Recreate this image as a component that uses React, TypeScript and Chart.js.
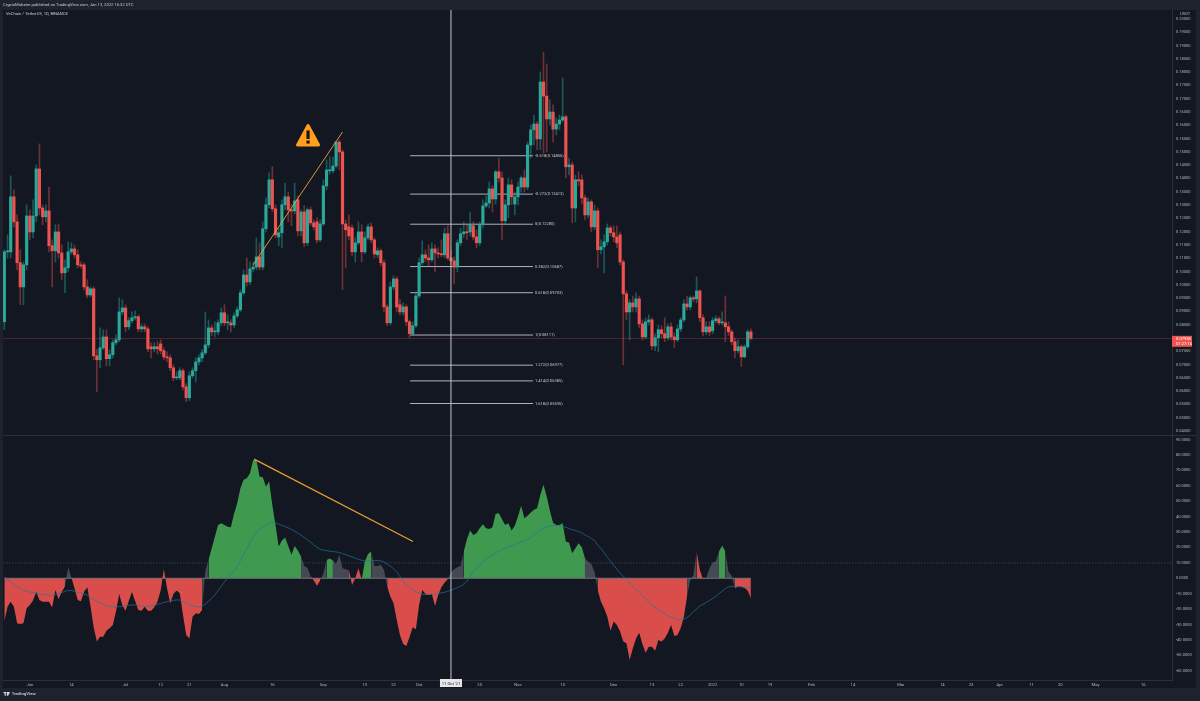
import React, { useEffect, useRef } from "react";
import { Chart, registerables } from "chart.js";

Chart.register(...registerables);

const opens = [
.0861,.1124,.1124,.1331,.1237,.1083,.0992,.1075,.1259,.1199,
.1259,.1436,.1289,.1256,.1278,.1147,.1128,.1199,.1120,.1045,
.1064,.1124,.1135,.1113,.1075,.1075,.0992,.0962,.0985,.0733,
.0718,.0763,.0804,.0722,.0737,.0782,.0793,.0898,.0913,.0842,
.0865,.0876,.0880,.0834,.0842,.0834,.0767,.0759,.0767,.0778,
.0752,.0729,.0725,.0688,.0650,.0650,.0677,.0616,.0575,.0658,
.0677,.0710,.0725,.0744,.0774,.0838,.0823,.0823,.0857,.0895,
.0857,.0857,.0849,.0883,.0906,.0970,.1037,.1011,.1060,.1067,
.1105,.1067,.1211,.1301,.1395,.1286,.1180,.1196,.1301,.1331,
.1282,.1278,.1320,.1203,.1274,.1158,.1282,.1233,.1237,.1169,
.1229,.1372,.1429,.1429,.1447,.1537,.1500,.1229,.1218,.1214,
.1124,.1158,.1199,.1124,.1177,.1218,.1169,.1113,.1128,.1083,
.0917,.0857,.0992,.1022,.0925,.0898,.0917,.0861,.0816,.0846,
.0958,.1083,.1113,.1101,.1094,.1135,.1120,.1116,.1113,.1192,
.1101,.1090,.1067,.1158,.1192,.1199,.1199,.1222,.1180,.1158,
.1229,.1297,.1308,.1361,.1323,.1425,.1402,.1241,.1301,.1376,
.1304,.1331,.1368,.1402,.1368,.1526,.1583,.1605,.1549,.1763,
.1710,.1624,.1650,.1586,.1605,.1620,.1632,.1444,.1451,.1289,
.1395,.1395,.1327,.1263,.1312,.1218,.1278,.1132,.1143,.1162,
.1214,.1196,.1180,.1188,.1086,.0966,.0898,.0932,.0917,.0947,
.0853,.0804,.0861,.0868,.0770,.0801,.0831,.0816,.0801,.0842,
.0804,.0793,.0834,.0868,.0928,.0917,.0951,.0947,.0977,.0876,
.0823,.0842,.0827,.0865,.0872,.0857,.0857,.0842,.0823,.0786,
.0752,.0767,.0729,.0767,.0823];

const closes = [
.1124,.1124,.1331,.1237,.1083,.0992,.1075,.1259,.1199,.1259,
.1436,.1289,.1256,.1278,.1147,.1128,.1199,.1120,.1045,.1064,
.1124,.1135,.1113,.1075,.1071,.0992,.0962,.0985,.0733,.0718,
.0763,.0804,.0722,.0737,.0782,.0793,.0898,.0913,.0842,.0865,
.0876,.0880,.0834,.0842,.0834,.0759,.0759,.0767,.0759,.0752,
.0729,.0725,.0688,.0650,.0650,.0677,.0616,.0575,.0658,.0677,
.0710,.0725,.0744,.0774,.0838,.0823,.0823,.0857,.0895,.0857,
.0857,.0849,.0883,.0906,.0970,.1037,.1011,.1060,.1067,.1105,
.1067,.1211,.1301,.1395,.1286,.1188,.1196,.1301,.1331,.1282,
.1278,.1316,.1203,.1274,.1158,.1282,.1233,.1218,.1169,.1229,
.1372,.1432,.1432,.1447,.1537,.1500,.1229,.1207,.1184,.1124,
.1158,.1199,.1124,.1177,.1218,.1169,.1116,.1128,.1083,.0917,
.0857,.0992,.1022,.0917,.0898,.0917,.0861,.0816,.0846,.0958,
.1083,.1113,.1101,.1094,.1135,.1120,.1116,.1113,.1192,.1101,
.1090,.1067,.1158,.1192,.1199,.1196,.1226,.1180,.1158,.1226,
.1297,.1308,.1361,.1323,.1425,.1402,.1241,.1301,.1376,.1331,
.1331,.1368,.1402,.1368,.1526,.1583,.1605,.1549,.1763,.1710,
.1624,.1650,.1586,.1605,.1620,.1632,.1444,.1451,.1289,.1395,
.1391,.1327,.1263,.1312,.1218,.1278,.1132,.1143,.1162,.1214,
.1196,.1180,.1158,.1086,.0966,.0898,.0932,.0917,.0947,.0853,
.0804,.0861,.0868,.0770,.0801,.0831,.0816,.0801,.0842,.0804,
.0793,.0834,.0868,.0928,.0917,.0951,.0947,.0977,.0876,.0823,
.0842,.0823,.0865,.0872,.0857,.0857,.0842,.0823,.0786,.0752,
.0767,.0729,.0767,.0823,.07986];

const highs = [
.1132,.1188,.1410,.1357,.1263,.1132,.1086,.1301,.1282,.1320,
.1451,.1530,.1301,.1301,.1368,.1169,.1226,.1229,.1150,.1094,
.1162,.1158,.1150,.1132,.1086,.1083,.1019,.0992,.0992,.0756,
.0838,.0831,.0831,.0756,.0793,.0812,.0951,.0944,.0925,.0876,
.0898,.0902,.0887,.0853,.0853,.0842,.0782,.0782,.0786,.0793,
.0763,.0748,.0737,.0699,.0673,.0688,.0684,.0628,.0673,.0688,
.0725,.0737,.0756,.0898,.0868,.0849,.0861,.0868,.0913,.0925,
.0887,.0868,.0895,.0917,.0981,.1056,.1101,.1086,.1086,.1177,
.1158,.1237,.1327,.1421,.1444,.1301,.1214,.1320,.1383,.1349,
.1304,.1383,.1334,.1282,.1297,.1289,.1293,.1244,.1252,.1244,
.1395,.1470,.1481,.1481,.1537,.1545,.1508,.1244,.1263,.1226,
.1177,.1237,.1226,.1199,.1229,.1233,.1177,.1139,.1135,.1094,
.0925,.1011,.1034,.1030,.0944,.0932,.0925,.0868,.0861,.0973,
.1101,.1165,.1132,.1150,.1158,.1150,.1139,.1169,.1214,.1222,
.1132,.1105,.1169,.1214,.1237,.1229,.1274,.1237,.1207,.1237,
.1320,.1334,.1387,.1372,.1432,.1477,.1425,.1320,.1402,.1395,
.1349,.1387,.1410,.1432,.1537,.1601,.1639,.1613,.1801,.1876,
.1831,.1696,.1677,.1628,.1639,.1778,.1639,.1477,.1462,.1413,
.1425,.1413,.1338,.1327,.1320,.1301,.1289,.1169,.1188,.1229,
.1222,.1222,.1222,.1199,.1094,.0977,.0944,.0958,.0970,.0958,
.0868,.0876,.0887,.0876,.0816,.0849,.0846,.0876,.0853,.0857,
.0819,.0849,.0876,.0944,.0958,.0958,.0958,.1030,.0981,.0887,
.0861,.0861,.0876,.0883,.0880,.0898,.0958,.0861,.0831,.0801,
.0793,.0774,.0774,.0831,.0834];

const lows = [
.0831,.1101,.1101,.1218,.1056,.0925,.0925,.1056,.1169,.1177,
.1237,.1263,.1226,.1237,.1124,.0992,.1086,.1101,.1019,.0970,
.1049,.1116,.1101,.1064,.1064,.0981,.0951,.0955,.0718,.0598,
.0688,.0756,.0695,.0695,.0725,.0774,.0786,.0887,.0823,.0831,
.0857,.0868,.0823,.0823,.0823,.0748,.0725,.0748,.0740,.0740,
.0718,.0710,.0677,.0639,.0643,.0643,.0605,.0560,.0564,.0650,
.0635,.0699,.0710,.0737,.0763,.0808,.0804,.0812,.0846,.0846,
.0831,.0823,.0838,.0876,.0898,.0962,.0996,.1000,.1049,.1056,
.1056,.1056,.1199,.1289,.1274,.1177,.1147,.1139,.1282,.1237,
.1222,.1267,.1184,.1184,.1143,.1147,.1222,.1207,.1158,.1162,
.1222,.1357,.1417,.1421,.1440,.1432,.0981,.1064,.1169,.1109,
.1086,.1150,.1086,.1116,.1169,.1158,.1101,.1101,.1071,.0898,
.0846,.0849,.0981,.0898,.0887,.0887,.0846,.0801,.0808,.0838,
.0951,.1075,.1086,.1071,.1086,.1049,.1101,.1105,.1101,.1094,
.1075,.1003,.1049,.1147,.1177,.1169,.1184,.1169,.1139,.1147,
.1214,.1289,.1289,.1274,.1304,.1387,.1169,.1229,.1252,.1301,
.1263,.1301,.1349,.1349,.1357,.1477,.1526,.1508,.1508,.1496,
.1500,.1601,.1537,.1564,.1583,.1613,.1402,.1413,.1233,.1237,
.1372,.1304,.1244,.1252,.1199,.1207,.1064,.1116,.1045,.1150,
.1184,.1162,.1139,.1075,.0699,.0868,.0793,.0898,.0898,.0838,
.0793,.0797,.0849,.0756,.0752,.0748,.0801,.0786,.0793,.0793,
.0763,.0786,.0823,.0861,.0906,.0906,.0936,.0932,.0861,.0808,
.0812,.0808,.0816,.0857,.0849,.0849,.0786,.0808,.0774,.0725,
.0744,.0692,.0725,.0759,.0793];

const oscValues = [
-28,-18.4,-15.2,-18.4,-29.2,-29.7,-29.2,-19.5,-17.3,-14.5,
-8.7,-14.1,-15.2,-15.2,-15.2,-19,-7.6,-13.6,-8.7,-5.4,
7.1,0.6,-6.5,-14.1,-14.9,-8.7,-5.8,-18,-31.8,-41.1,
-37.9,-37.9,-34,-32.5,-30.3,-21.6,-10.2,-17.7,-21,-14.7,
-8.9,-14.7,-20.6,-21,-18.4,-21,-21,-18.8,-15.2,-8,
5.8,-6.5,-16.2,-10.2,-8,-9.7,-23.8,-36.8,-39,-24.9,
-22.7,-23.2,-20.6,5,11.9,19.5,27.1,34.6,35.7,34.6,
33.5,33.1,41.8,48.7,58.4,63.9,64.9,68.2,76.8,76.8,
66,65.6,59.5,62.8,47.6,34.6,20.6,24.5,26.4,21,
15.2,21,18,14.1,8,6.9,1.5,-1.5,-4.8,-1.5,
3,11.9,12.8,11.5,9.3,15.2,6.5,5.8,5.4,-4.3,
0,6.5,-1.1,10.8,15.8,17.3,8,8,8.7,5.4,
-5.4,-11.9,-16.2,-27,-36.8,-42.6,-43.9,-38.3,-31.8,-33.1,
-17.3,-7.6,-10.2,-10.8,-10.2,-18,-10.8,-5.8,-2.8,-0.6,
3.7,5.8,7.1,8,17.3,25.3,31,28.1,29.2,32.5,
35.1,32.5,32,33.1,41.8,42.2,38.3,34.6,35.7,31,
34,40,47,39,40.5,42.6,44.4,45.5,54.1,60.6,
53,43.9,36.1,34.6,34.6,35.7,23.8,23.2,16.2,19.5,
22.7,20.1,13,10.8,9.3,4.3,-7.6,-15.2,-19.5,-24.9,
-34,-28.1,-30.3,-34.6,-41.1,-42.2,-53,-45.5,-39,-35.3,
-42.6,-48.3,-44.4,-44.4,-47,-40,-41.1,-39,-35.3,-30.3,
-37.4,-36.8,-32.5,-24.9,-11.9,-1.1,2.2,17.3,5.4,-0.6,
0,6.5,10.2,10.8,17.3,21.2,17.3,4.3,1.5,-6.5,
-5.4,-5.4,-6.3,-8,-13];

const signalValues = [
0.6,-1.1,-2.4,-4.1,-5.6,-6.9,-7.8,-8.4,-8.9,-9.3,
-9.7,-10.2,-10.4,-10.6,-11,-11.3,-10.6,-10,-9.3,-8.4,
-8,-8,-8.4,-9.1,-9.5,-10.2,-11,-12.3,-13.9,-14.9,
-15.8,-16.9,-17.7,-18.2,-18.6,-18.6,-18.4,-18.2,-17.7,-17.5,
-17.3,-17.3,-17.5,-18,-18.2,-18.4,-18,-17.5,-16.9,-16.5,
-15.6,-15.2,-14.7,-14.3,-14.1,-14.1,-15.2,-16.2,-17.1,-18,
-18.4,-18.8,-18,-16.7,-14.9,-13,-10.8,-8,-5.2,-2.4,
0.2,2.4,4.8,7.6,11.3,15.2,19.5,23.4,26.8,29.4,
32,33.3,34.6,35.5,36.6,36.1,35.1,34.2,33.5,32.7,
31.6,30.5,29.4,28.1,26.4,24.9,23.4,21.6,20.1,18.8,
18.2,18,17.5,17.3,17.1,16.7,16,15.4,14.5,13.9,
13,12.3,11.7,11.3,11.3,11.5,11.5,11.5,11.3,10.6,
9.1,7.8,6.3,4.1,1.1,-1.9,-4.1,-5.8,-7.4,-8.7,
-9.7,-10.4,-10.6,-10.6,-10.4,-10.2,-10,-9.5,-9.1,-8.4,
-7.8,-6.9,-6.1,-5.2,-3.7,-1.9,1.1,4.3,6.5,8.7,
10.4,12.3,13.6,15.2,16.5,17.5,18.6,19.5,20.3,21,
21.6,22.7,23.8,24.5,25.3,26.4,27.9,29.7,31.4,32.5,
33.5,34,34.2,34.2,34,33.8,33.1,32.3,31.4,31,
30.3,29.4,28.1,27.1,25.8,24.5,21.4,19.5,16.5,13.6,
11,8.4,5.8,3.2,1.3,-0.9,-3,-5,-7.1,-9.1,
-11.3,-13.2,-15.6,-17.1,-18.8,-20.3,-21.6,-22.9,-24.2,-25.3,
-26.2,-26.6,-27.1,-26.6,-25.5,-23.8,-21.6,-19.9,-18,-16.9,
-15.6,-14.5,-13.2,-11.9,-10,-8.4,-6.7,-5.6,-5.2,-5.4,
-5.4,-5.6,-5.8,-6,-6.2];

// zone of each oscillator point: R red, G green, K grey
const oscZoneRuns: [string, number][] = [
  ["R",20],["K",1],["R",42],["K",1],["G",30],["K",2],["R",4],["K",1],["G",3],["K",1],["G",1],["K",2],
  ["R",5],["G",3],["K",4],["R",20],["K",4],["G",39],["K",3],["R",29],["K",2],["G",1],["R",3],["K",3],
  ["G",3],["K",2],["R",6],
];

const priceTicks = [0.2,0.195,0.19,0.185,0.18,0.175,0.17,0.165,0.16,0.155,0.15,0.145,0.14,0.135,0.13,0.125,0.12,0.115,0.11,0.105,0.1,0.095,0.09,0.085,0.08,0.075,0.07,0.065,0.06,0.055,0.05,0.045];
const oscTicks = [90,80,70,60,50,40,30,20,10,0,-10,-20,-30,-40,-50,-60];

const xTickDays = [8,21,38,49,58,69,84,100,113,122,130,149,161,175,191,203,212,222,231,240,253,266,281,294,303,312,322,331,342,357];
const xTickLabels = ["Jun","14","Jul","12","21","Aug","16","Sep","13","22","Oct","20","Nov","15","Dec","13","22","2022","10","19","Feb","14","Mar","14","23","Apr","11","20","May","16"];

const fibLevels = [0.14856,0.13413,0.1228,0.10687,0.09703,0.08111,0.06977,0.06385,0.05535];
const fibLabels = ["-0.618(0.14856)","-0.272(0.13413)","0(0.12280)","0.382(0.10687)","0.618(0.09703)","1(0.08111)","1.272(0.06977)","1.414(0.06385)","1.618(0.05535)"];
const fibDays = [127.2,165.7];

const priceTrendDays = [78,106];
const priceTrendValues = [0.1075,0.1575];
const oscTrendDays = [78.3,128.1];
const oscTrendValues = [77.3,23.8];

const lastPrice = 0.07986;
const lastPriceLabel = "0.07986";
const countdownLabel = "07:27:16";
const crosshairDay = 140;
const crosshairLabel = "11 Oct '21";
const warningDay = 95.2;
const warningPrice = 0.156;
const oscGuide = 10;

const dayMin = -0.417;
const dayMax = 366;

const UP = "#2aa89a";
const DOWN = "#ef5350";
const UP_WICK = "rgba(38,166,154,0.45)";
const DOWN_WICK = "rgba(239,83,80,0.42)";
const FRAME = "#1e222d";
const PANE = "#131722";
const LINE = "#2a2e39";
const TEXT = "#b2b5be";
const FONT = "Roboto, 'Liberation Sans', sans-serif";

const zones: string[] = oscZoneRuns.flatMap(([z, n]) => Array(n).fill(z));
const zoneSeries = (zone: string) =>
  oscValues.map((v, i) => {
    let on = zones[i] === zone;
    if (zone === "K") on = on || zones[i - 1] === "K" || zones[i + 1] === "K";
    else on = on || (zones[i + 1] === zone && zones[i] !== "K");
    return { x: i, y: on ? v : null };
  });

const frontPlugin = {
  id: "frame",
  beforeDraw(chart: any) {
    const { ctx, width, height } = chart;
    ctx.save();
    ctx.fillStyle = FRAME;
    ctx.fillRect(0, 0, width, height);
    ctx.fillStyle = PANE;
    ctx.fillRect(3, 10, 1193, 678);
    ctx.strokeStyle = LINE;
    ctx.lineWidth = 1;
    ctx.beginPath();
    ctx.moveTo(3, 435.5);
    ctx.lineTo(1196, 435.5);
    ctx.stroke();
    ctx.restore();
  },
  afterDatasetsDraw(chart: any) {
    const { ctx, scales } = chart;
    const { x, yPrice } = scales;
    ctx.save();
    // last price line
    const py = yPrice.getPixelForValue(lastPrice);
    ctx.strokeStyle = "rgba(239,83,80,0.26)";
    ctx.lineWidth = 1;
    ctx.beginPath();
    ctx.moveTo(3, Math.round(py) + 0.5);
    ctx.lineTo(1172, Math.round(py) + 0.5);
    ctx.stroke();
    // crosshair
    const cx = x.getPixelForValue(crosshairDay);
    ctx.strokeStyle = "#c3c6ce";
    ctx.lineWidth = 1;
    ctx.beginPath();
    ctx.moveTo(cx, 10);
    ctx.lineTo(cx, 680);
    ctx.stroke();
    // warning icon
    const wx = x.getPixelForValue(warningDay);
    const wy = yPrice.getPixelForValue(warningPrice);
    ctx.fillStyle = "#ff9f1c";
    ctx.strokeStyle = "#ff9f1c";
    ctx.lineWidth = 3;
    ctx.lineJoin = "round";
    ctx.beginPath();
    ctx.moveTo(wx, wy - 10.5);
    ctx.lineTo(wx + 10.5, wy + 9);
    ctx.lineTo(wx - 10.5, wy + 9);
    ctx.closePath();
    ctx.fill();
    ctx.stroke();
    ctx.fillStyle = "#16161a";
    ctx.fillRect(wx - 1.6, wy - 5.5, 3.2, 8.5);
    ctx.fillRect(wx - 1.6, wy + 4.6, 3.2, 3);
    // fib labels
    ctx.font = `4.05px ${FONT}`;
    ctx.textBaseline = "middle";
    ctx.textAlign = "left";
    ctx.fillStyle = "#c8cad0";
    const fx = x.getPixelForValue(fibDays[1]) + 2;
    fibLevels.forEach((lv, i) => {
      ctx.fillText(fibLabels[i], fx, yPrice.getPixelForValue(lv));
    });
    ctx.restore();
  },
  afterDraw(chart: any) {
    const { ctx, scales } = chart;
    const { x, yPrice } = scales;
    ctx.save();
    ctx.textBaseline = "middle";
    ctx.textAlign = "left";
    // header texts
    ctx.font = `4.15px ${FONT}`;
    ctx.fillStyle = "#c8cad0";
    ctx.fillText("CryptoMobster published on TradingView.com, Jan 13, 2022 16:32 UTC", 3, 5);
    ctx.fillText("VeChain / TetherUS, 1D, BINANCE", 6, 14);
    ctx.fillStyle = TEXT;
    ctx.fillText("USDT", 1180, 14);
    // last price tag
    const py = yPrice.getPixelForValue(lastPrice);
    ctx.fillStyle = "#ef5350";
    ctx.fillRect(1172, py - 2.5, 20, 11);
    ctx.fillStyle = "#ffffff";
    ctx.fillText(lastPriceLabel, 1176, py + 0.5);
    ctx.fillText(countdownLabel, 1176, py + 5.5);
    // crosshair date tag
    const cx = x.getPixelForValue(crosshairDay);
    ctx.fillStyle = "#e6e7ea";
    ctx.fillRect(cx - 11, 679, 22, 8);
    ctx.fillStyle = "#131722";
    ctx.textAlign = "center";
    ctx.fillText(crosshairLabel, cx, 683.5);
    // logo
    ctx.fillStyle = "#d1d4dc";
    ctx.fillRect(3.5, 692, 3, 1.2);
    ctx.fillRect(4.6, 692, 1.2, 3.8);
    ctx.beginPath();
    ctx.moveTo(7, 692);
    ctx.lineTo(10, 692);
    ctx.lineTo(8.2, 695.8);
    ctx.lineTo(6.8, 695.8);
    ctx.closePath();
    ctx.fill();
    ctx.textAlign = "left";
    ctx.font = `500 4.3px ${FONT}`;
    ctx.fillText("TradingView", 11.7, 694.2);
    ctx.restore();
  },
};

const line = (id: string, xs: number[], ys: number[], yAxisID: string, color: string, width: number, order: number, dash: number[] = []) => ({
  type: "line" as const,
  label: id,
  data: xs.map((d, i) => ({ x: d, y: ys[i] })),
  xAxisID: "x",
  yAxisID,
  borderColor: color,
  borderWidth: width,
  borderDash: dash,
  pointRadius: 0,
  fill: false,
  order,
});

const areaDataset = (zone: string, color: string) => ({
  type: "line" as const,
  label: "osc" + zone,
  data: zoneSeries(zone),
  xAxisID: "x",
  yAxisID: "yOsc",
  borderColor: "rgba(0,0,0,0)",
  borderWidth: 0,
  backgroundColor: color,
  pointRadius: 0,
  fill: { value: 0 },
  spanGaps: false,
  tension: 0,
  order: 3,
});

export default function App() {
  const ref = useRef<HTMLCanvasElement | null>(null);

  useEffect(() => {
    document.body.style.margin = "0";
    document.body.style.background = FRAME;
    const isUp = closes.map((c, i) => c >= opens[i]);
    const fibDatasets = fibLevels.map((lv, i) =>
      line("fib" + i, fibDays, [lv, lv], "yPrice", "#b0b3bb", 1, 20)
    );
    const chart = new Chart(ref.current as HTMLCanvasElement, {
      type: "line",
      data: {
        datasets: [
          ...fibDatasets,
          {
            type: "bar",
            label: "wick",
            data: highs.map((h, i) => ({ x: i, y: [lows[i], h] })),
            xAxisID: "x",
            yAxisID: "yPrice",
            backgroundColor: isUp.map((u) => (u ? UP_WICK : DOWN_WICK)),
            barThickness: 1,
            grouped: false,
            order: 11,
          },
          {
            type: "bar",
            label: "body",
            data: opens.map((o, i) => ({ x: i, y: [o, closes[i]] })),
            xAxisID: "x",
            yAxisID: "yPrice",
            backgroundColor: isUp.map((u) => (u ? UP : DOWN)),
            barThickness: 2.5,
            minBarLength: 1,
            grouped: false,
            order: 10,
          },
          line("signal", oscValues.map((_, i) => i), signalValues, "yOsc", "rgba(30,120,160,0.65)", 1, 1),
          areaDataset("R", "rgba(239,83,80,0.9)"),
          areaDataset("G", "rgba(70,172,84,0.88)"),
          areaDataset("K", "rgba(120,123,134,0.5)"),
          line("zero", [0, oscValues.length - 1], [0, 0], "yOsc", "#6f727c", 1, 2),
          line("guide", [dayMin, dayMax], [oscGuide, oscGuide], "yOsc", "rgba(120,123,134,0.55)", 0.7, 1, [1.5, 1.5]),
          line("priceTrend", priceTrendDays, priceTrendValues, "yPrice", "#f0a040", 0.9, 0),
          line("oscTrend", oscTrendDays, oscTrendValues, "yOsc", "#ee9c2e", 1.2, 0),
        ] as any,
      },
      plugins: [frontPlugin],
      options: {
        animation: false,
        responsive: false,
        devicePixelRatio: 1,
        layout: { padding: { left: 3, top: 10, right: 0, bottom: 0 } },
        plugins: { legend: { display: false }, tooltip: { enabled: false } },
        events: [],
        scales: {
          x: {
            type: "linear",
            position: "bottom",
            min: dayMin,
            max: dayMax,
            offset: false,
            grid: { display: false, offset: false, drawTicks: false },
            border: { color: LINE },
            afterFit: (s: any) => { s.height = 21; },
            afterBuildTicks: (s: any) => { s.ticks = xTickDays.map((value) => ({ value })); },
            ticks: {
              autoSkip: false,
              maxRotation: 0,
              padding: 2,
              color: TEXT,
              font: { family: FONT, size: 4.2 },
              callback: (v: any) => xTickLabels[xTickDays.indexOf(v)],
            },
          },
          yPrice: {
            axis: "y",
            type: "linear",
            position: "right",
            stack: "panes",
            stackWeight: 426,
            weight: 1,
            min: 0.04312,
            max: 0.20339,
            grid: { display: false, drawTicks: false },
            border: { color: LINE },
            afterFit: (s: any) => { s.width = 28; },
            afterBuildTicks: (s: any) => { s.ticks = priceTicks.map((value) => ({ value })); },
            ticks: {
              autoSkip: false,
              padding: 4,
              color: TEXT,
              font: { family: FONT, size: 4 },
              callback: (v: any) => Number(v).toFixed(5),
            },
          },
          yOsc: {
            axis: "y",
            type: "linear",
            position: "right",
            stack: "panes",
            stackWeight: 244,
            weight: 1,
            min: -66,
            max: 92.3,
            grid: { display: false, drawTicks: false },
            border: { color: LINE },
            afterFit: (s: any) => { s.width = 28; },
            afterBuildTicks: (s: any) => { s.ticks = oscTicks.map((value) => ({ value })); },
            ticks: {
              autoSkip: false,
              padding: 4,
              color: TEXT,
              font: { family: FONT, size: 4 },
              callback: (v: any) => Number(v).toFixed(4),
            },
          },
        },
      } as any,
    });
    return () => chart.destroy();
  }, []);

  return <canvas ref={ref} width={1200} height={701} style={{ display: "block", width: 1200, height: 701 }} />;
}
